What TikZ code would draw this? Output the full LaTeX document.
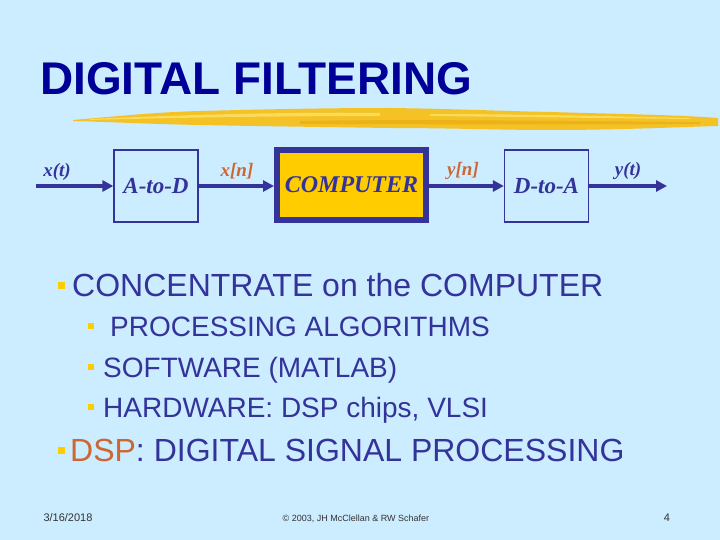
\documentclass[tikz,border=0pt]{standalone}
\usepackage{fontspec}
\setmainfont{Liberation Sans}
\newfontfamily\serifbi{Liberation Serif}[BoldItalicFont=* Bold Italic]
\usetikzlibrary{arrows.meta}
\definecolor{bgblue}{HTML}{CCECFF}
\definecolor{navy}{HTML}{333399}
\definecolor{titleblue}{HTML}{000099}
\definecolor{gold}{HTML}{FFCC00}
\definecolor{brush}{HTML}{F4C224}
\definecolor{brushdark}{HTML}{EBB318}
\definecolor{brushlight}{HTML}{FADB5C}
\definecolor{orangelab}{HTML}{CC6633}
\definecolor{foot}{HTML}{333333}
\definecolor{bulletyellow}{HTML}{FFCC00}
\tikzset{
  blockbox/.style={draw=navy, line width=1.3pt, fill=bgblue, minimum width=84pt, minimum height=72pt, inner sep=0pt,
    text=navy, font=\serifbi\bfseries\itshape\fontsize{23}{26}\selectfont},
  compbox/.style={draw=navy, line width=6pt, fill=gold, minimum width=149pt, minimum height=70pt, inner sep=0pt,
    text=navy, font=\serifbi\bfseries\itshape\fontsize{24}{27}\selectfont},
  sig/.style={draw=navy, line width=4pt, -{Triangle[length=11pt,width=11pt]}},
  siglab/.style={anchor=base, inner sep=0pt, text=navy, font=\serifbi\bfseries\itshape\fontsize{19}{22}\selectfont},
  digilab/.style={siglab, text=orangelab},
  item1/.style={anchor=base west, inner sep=0pt, text=navy, font=\fontsize{32}{36}\selectfont},
  item2/.style={anchor=base west, inner sep=0pt, text=navy, font=\fontsize{28}{32}\selectfont},
  bul1/.style={fill=bulletyellow, draw=none, minimum size=7pt, inner sep=0pt},
  bul2/.style={fill=bulletyellow, draw=none, minimum size=6pt, inner sep=0pt},
  footer/.style={anchor=base, inner sep=0pt, text=foot},
}
\begin{document}
\begin{tikzpicture}[x=1pt,y=-1pt]
\useasboundingbox (0,0) rectangle (720,540);
\fill[bgblue] (0,0) rectangle (720,540);

% title
\node[anchor=south west, inner sep=0pt, text=titleblue] (title) at (40,95)
  {\resizebox{432pt}{32pt}{\bfseries DIGITAL FILTERING}};

% brush stroke
\fill[brush] (73,120) .. controls (120,116) and (160,112) .. (200,111)
  .. controls (280,109) and (330,108) .. (390,108)
  .. controls (460,109) and (500,111) .. (550,112)
  .. controls (620,114) and (680,115) .. (718,118) -- (718,126)
  .. controls (680,127) and (620,130) .. (550,130)
  .. controls (500,130) and (450,128) .. (390,128)
  .. controls (320,127) and (250,126) .. (200,125)
  .. controls (150,124) and (110,122) .. (73,121) -- cycle;
\fill[brushlight] (90,119) .. controls (200,114) and (300,112) .. (380,113)
  -- (380,116) .. controls (300,116) and (200,117) .. (90,120) -- cycle;
\fill[brushdark] (300,121) .. controls (400,119) and (550,121) .. (700,122)
  -- (700,124) .. controls (550,125) and (400,124) .. (300,124) -- cycle;
\fill[brushlight] (430,114) .. controls (520,114) and (600,116) .. (690,118)
  -- (690,119) .. controls (600,118) and (520,117) .. (430,116) -- cycle;

% block diagram
\coordinate (xin) at (36,186);
\node[blockbox] (adc) at (156,186) {A-to-D};
\node[compbox] (comp) at (351.5,185) {COMPUTER};
\node[blockbox] (dac) at (546.5,186) {D-to-A};
\coordinate (yout) at (667,186);

\draw[sig] (xin) -- (adc.west);
\draw[sig] (adc.east) -- (adc.east -| comp.west);
\draw[sig] (comp.east |- dac.west) -- (dac.west);
\draw[sig] (dac.east) -- (yout);

\node[siglab] (lxt) at (57,177) {x(t)};
\node[digilab] (lxn) at (237,177) {x[n]};
\node[digilab] (lyn) at (463,176) {y[n]};
\node[siglab] (lyt) at (628,176) {y(t)};

% bullets
\node[bul1] (b1) at (61,285) {};
\node[item1] (t1) at (72,296) {CONCENTRATE on the COMPUTER};
\node[bul2] (b2) at (91,326) {};
\node[item2] (t2) at (110,336) {PROCESSING ALGORITHMS};
\node[bul2] (b3) at (91,367) {};
\node[item2] (t3) at (103,377) {SOFTWARE (MATLAB)};
\node[bul2] (b4) at (91,407) {};
\node[item2] (t4) at (103,417) {HARDWARE: DSP chips, VLSI};
\node[bul1] (b5) at (61,450) {};
\node[item1] (t5) at (70,461) {\textcolor{orangelab}{DSP}: DIGITAL SIGNAL PROCESSING};

% footer
\node[footer, font=\fontsize{11}{13}\selectfont] (date) at (68,521) {3/16/2018};
\node[footer, font=\fontsize{9}{11}\selectfont] (copy) at (356,521) {© 2003, JH McClellan \& RW Schafer};
\node[footer, font=\fontsize{11}{13}\selectfont] (page) at (667,521) {4};
\end{tikzpicture}
\end{document}
